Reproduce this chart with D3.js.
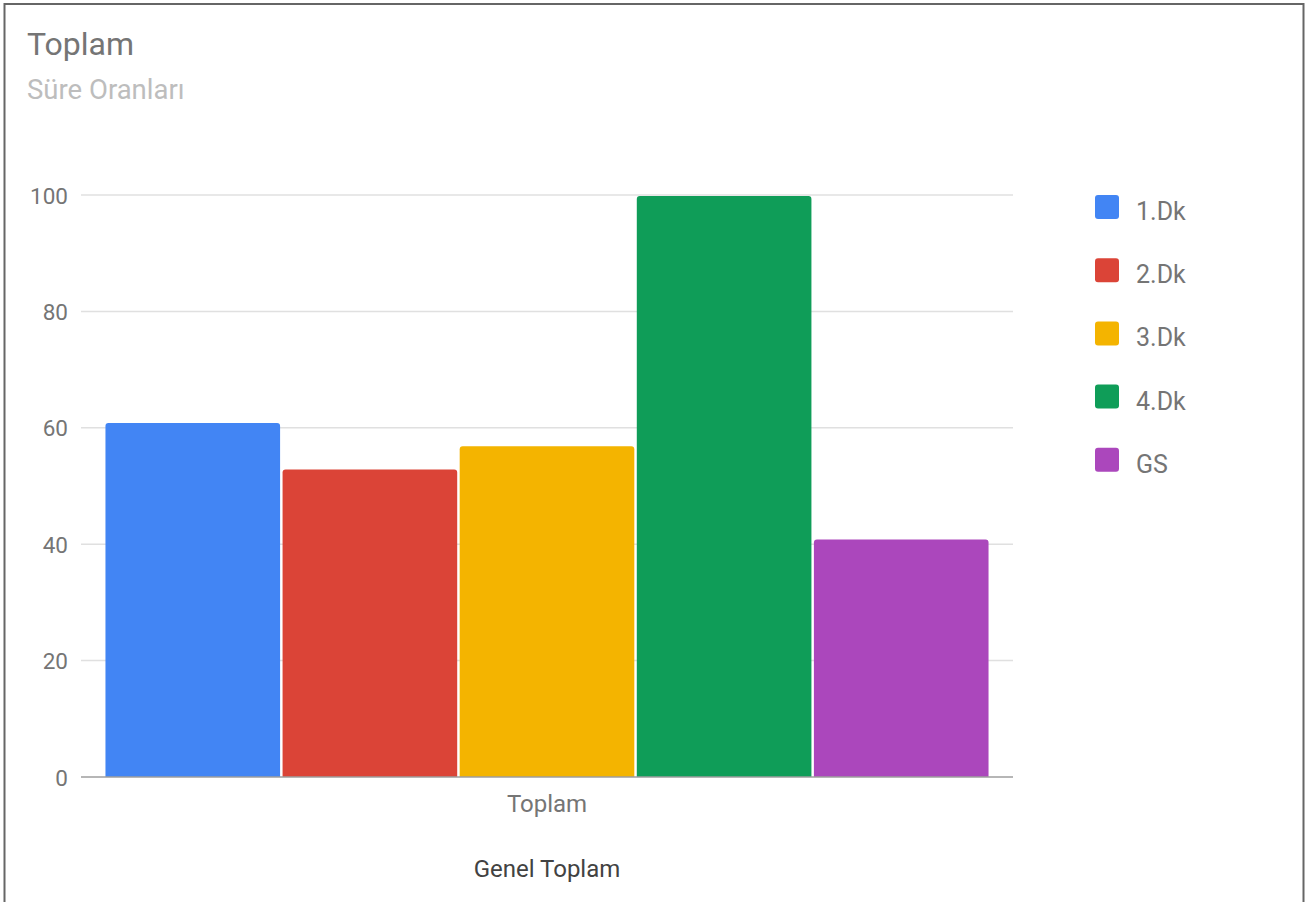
<!DOCTYPE html>
<html>
<head>
<meta charset="utf-8">
<script src="https://cdn.jsdelivr.net/npm/d3@7"></script>
<style>
  html, body { margin: 0; padding: 0; background: #fff; }
  svg { display: block; font-family: Roboto, "Noto Sans", Arial, sans-serif; }
</style>
</head>
<body>
<svg id="chart" width="1307" height="902"></svg>
<script>
const categories = ["Toplam"];
const seriesNames = ["1.Dk", "2.Dk", "3.Dk", "4.Dk", "GS"];
const seriesValues = [61, 53, 57, 100, 41];
const seriesColors = ["#4285f4", "#db4437", "#f4b400", "#0f9d58", "#ab47bc"];
const yTicks = [0, 20, 40, 60, 80, 100];
const titleText = "Toplam";
const subtitleText = "Süre Oranları";
const xAxisTitle = "Genel Toplam";

const svg = d3.select("#chart");
const W = 1307, H = 902;
const plot = { left: 81, right: 1013, top: 195, bottom: 777 };

// frame (no bottom edge)
svg.append("path")
  .attr("d", `M4.5,${H} L4.5,4 L1303.5,4 L1303.5,${H}`)
  .attr("fill", "none").attr("stroke", "#666").attr("stroke-width", 2);

// titles
svg.append("text").attr("x", 27).attr("y", 55)
  .attr("font-size", 32).attr("fill", "#757575").text(titleText);
svg.append("text").attr("x", 27).attr("y", 99)
  .attr("font-size", 27.5).attr("fill", "#bdbdbd").text(subtitleText);

const y = d3.scaleLinear().domain([0, 100]).range([plot.bottom, plot.top]);
const x0 = d3.scaleBand().domain(categories).range([plot.left, plot.right])
  .paddingInner(0).paddingOuter(0.0277);
const x1 = d3.scaleBand().domain(seriesNames).range([0, x0.bandwidth()])
  .paddingInner(0.014).paddingOuter(0);

// gridlines
svg.append("g").selectAll("line").data(yTicks.filter(t => t !== 0)).join("line")
  .attr("x1", plot.left).attr("x2", plot.right)
  .attr("y1", d => y(d)).attr("y2", d => y(d))
  .attr("stroke", "#e0e0e0").attr("stroke-width", 1.5);

// y-axis labels
const yAxis = d3.axisLeft(y).tickValues(yTicks).tickSize(0).tickPadding(0);
const yg = svg.append("g").attr("transform", `translate(68,0)`).call(yAxis);
yg.select(".domain").remove();
yg.selectAll("text").attr("font-size", 22.5).attr("fill", "#757575")
  .attr("font-family", "Roboto, sans-serif").attr("dy", "0.36em");

// bars with rounded top corners
function barPath(xs, w, yt, yb, r) {
  r = Math.min(r, w / 2, (yb - yt));
  return `M${xs},${yb} L${xs},${yt + r} Q${xs},${yt} ${xs + r},${yt} ` +
         `L${xs + w - r},${yt} Q${xs + w},${yt} ${xs + w},${yt + r} L${xs + w},${yb} Z`;
}
const barData = seriesNames.map((s, i) => ({ cat: categories[0], name: s, value: seriesValues[i], color: seriesColors[i] }));
svg.append("g").selectAll("path").data(barData).join("path")
  .attr("d", d => barPath(x0(d.cat) + x1(d.name), x1.bandwidth(), y(d.value) + 1, y(0), 3))
  .attr("fill", d => d.color);

// baseline
svg.append("line").attr("x1", plot.left).attr("x2", plot.right)
  .attr("y1", y(0)).attr("y2", y(0)).attr("stroke", "#9e9e9e").attr("stroke-width", 1.5);

// category label
const xAxis = d3.axisBottom(x0).tickSize(0).tickPadding(0);
const xg = svg.append("g").attr("transform", `translate(0,${y(0)})`).call(xAxis);
xg.select(".domain").remove();
xg.selectAll("text").attr("font-size", 24).attr("fill", "#757575")
  .attr("font-family", "Roboto, sans-serif").attr("dy", "0").attr("y", 35);

// x-axis title
svg.append("text").attr("x", x0(categories[0]) + x0.bandwidth() / 2).attr("y", 877)
  .attr("text-anchor", "middle").attr("font-size", 24).attr("fill", "#424242").text(xAxisTitle);

// legend
const lg = svg.append("g").attr("transform", "translate(1095,195)");
const items = lg.selectAll("g").data(barData).join("g")
  .attr("transform", (d, i) => `translate(0,${i * 63.2})`);
items.append("rect").attr("width", 24).attr("height", 24).attr("rx", 3)
  .attr("fill", d => d.color);
items.append("text").attr("x", 41).attr("y", 25).attr("font-size", 25)
  .attr("fill", "#757575").text(d => d.name);
</script>
</body>
</html>
